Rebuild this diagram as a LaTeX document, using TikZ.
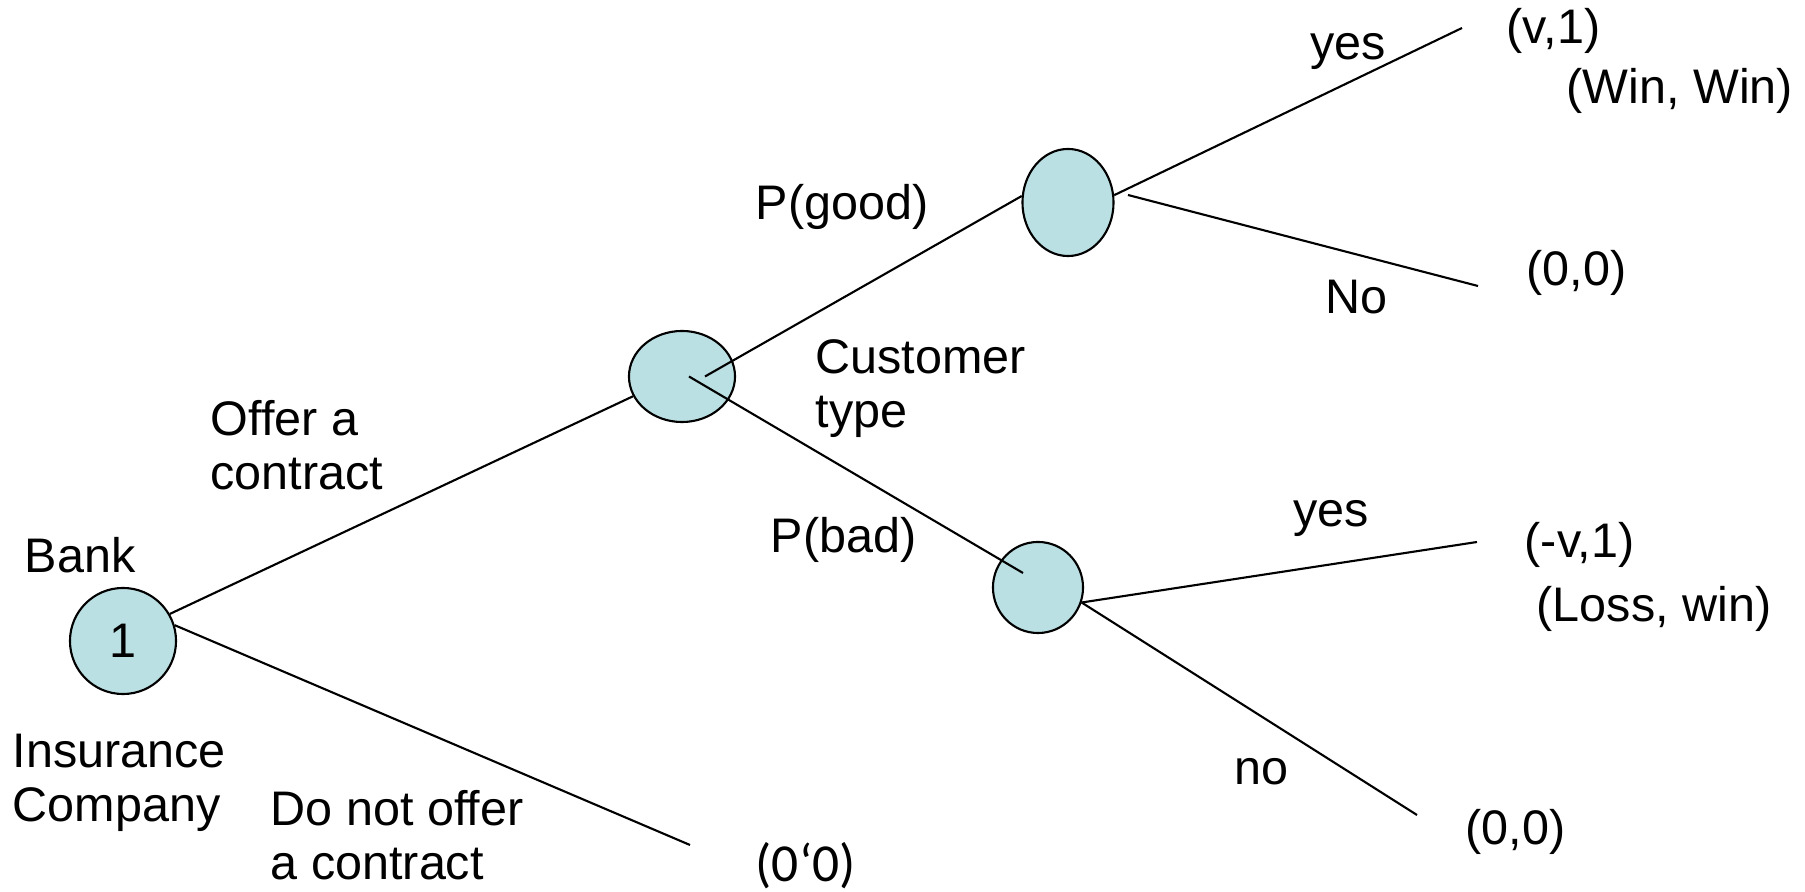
\documentclass[tikz,border=0pt]{standalone}
\usepackage{fontspec}
\setmainfont{Liberation Sans}
\newfontfamily\calibrifont{Carlito}
\usepackage{tikz}
\usetikzlibrary{calc,positioning,shapes.geometric}
\definecolor{nodefill}{RGB}{187,224,227}

\begin{document}
\begin{tikzpicture}[x=0.01cm,y=-0.01cm,
		every node/.style={font=\fontsize{13.8}{15.5}\selectfont},
		chance/.style={ellipse,draw,fill=nodefill,line width=0.6pt,inner sep=0pt},
		lbl/.style={anchor=base west,inner sep=0pt,align=left},
		every edge/.style={draw,line width=0.6pt}]
		\useasboundingbox (0,0) rectangle (1805,892);
		\node(1) [chance,minimum width=1.06cm,minimum height=1.06cm] at (123,641) {1};
		\node(2) [chance,minimum width=1.06cm,minimum height=0.91cm] at (682,376.5) {};
		\node(3) [chance,minimum width=0.91cm,minimum height=1.07cm] at (1068,202.5) {};
		\node(4) [chance,minimum width=0.90cm,minimum height=0.91cm] at (1038,587.5) {};
		\coordinate (z0) at (690,845);
		\coordinate (v1) at (1462,28);
		\coordinate (z1) at (1478,286);
		\coordinate (v2) at (1477,542);
		\coordinate (z2) at (1417,815);
		\path
			(1.30) edge (2.202)
			(1.17) edge (z0)
			($(2.center)+(23,0)$) edge (3.172)
			($(2.center)+(7,0)$) edge ($(4.center)+(-15,-14.5)$)
			(3.9) edge (v1)
			($(3.center)+(60,-7.5)$) edge (z1)
			(4.341) edge (v2)
			(4.341) edge (z2);
		% labels, base of the last line
		\node [lbl] at (24,573) {Bank};
		\node [lbl] at (12,822) {Insurance\\Company};
		\node [lbl] at (210,490) {Offer a\\contract};
		\node [lbl] at (270,880) {Do not offer\\a contract};
		\node [lbl,font=\calibrifont\fontsize{15.2}{17}\selectfont] at (755,882) {(0‘0)};
		\node [lbl] at (755,220) {P(good)};
		\node [lbl] at (815,428) {Customer\\type};
		\node [lbl] at (770,553) {P(bad)};
		\node [lbl] at (1310,60) {yes};
		\node [lbl] at (1506,44) {(v,1)};
		\node [lbl] at (1566,104) {(Win, Win)};
		\node [lbl] at (1325,314) {No};
		\node [lbl] at (1526,286) {(0,0)};
		\node [lbl] at (1293,527) {yes};
		\node [lbl] at (1524,558) {(-v,1)};
		\node [lbl] at (1536,622) {(Loss, win)};
		\node [lbl] at (1234,785) {no};
		\node [lbl] at (1465,845) {(0,0)};
	\end{tikzpicture}
\end{document}
